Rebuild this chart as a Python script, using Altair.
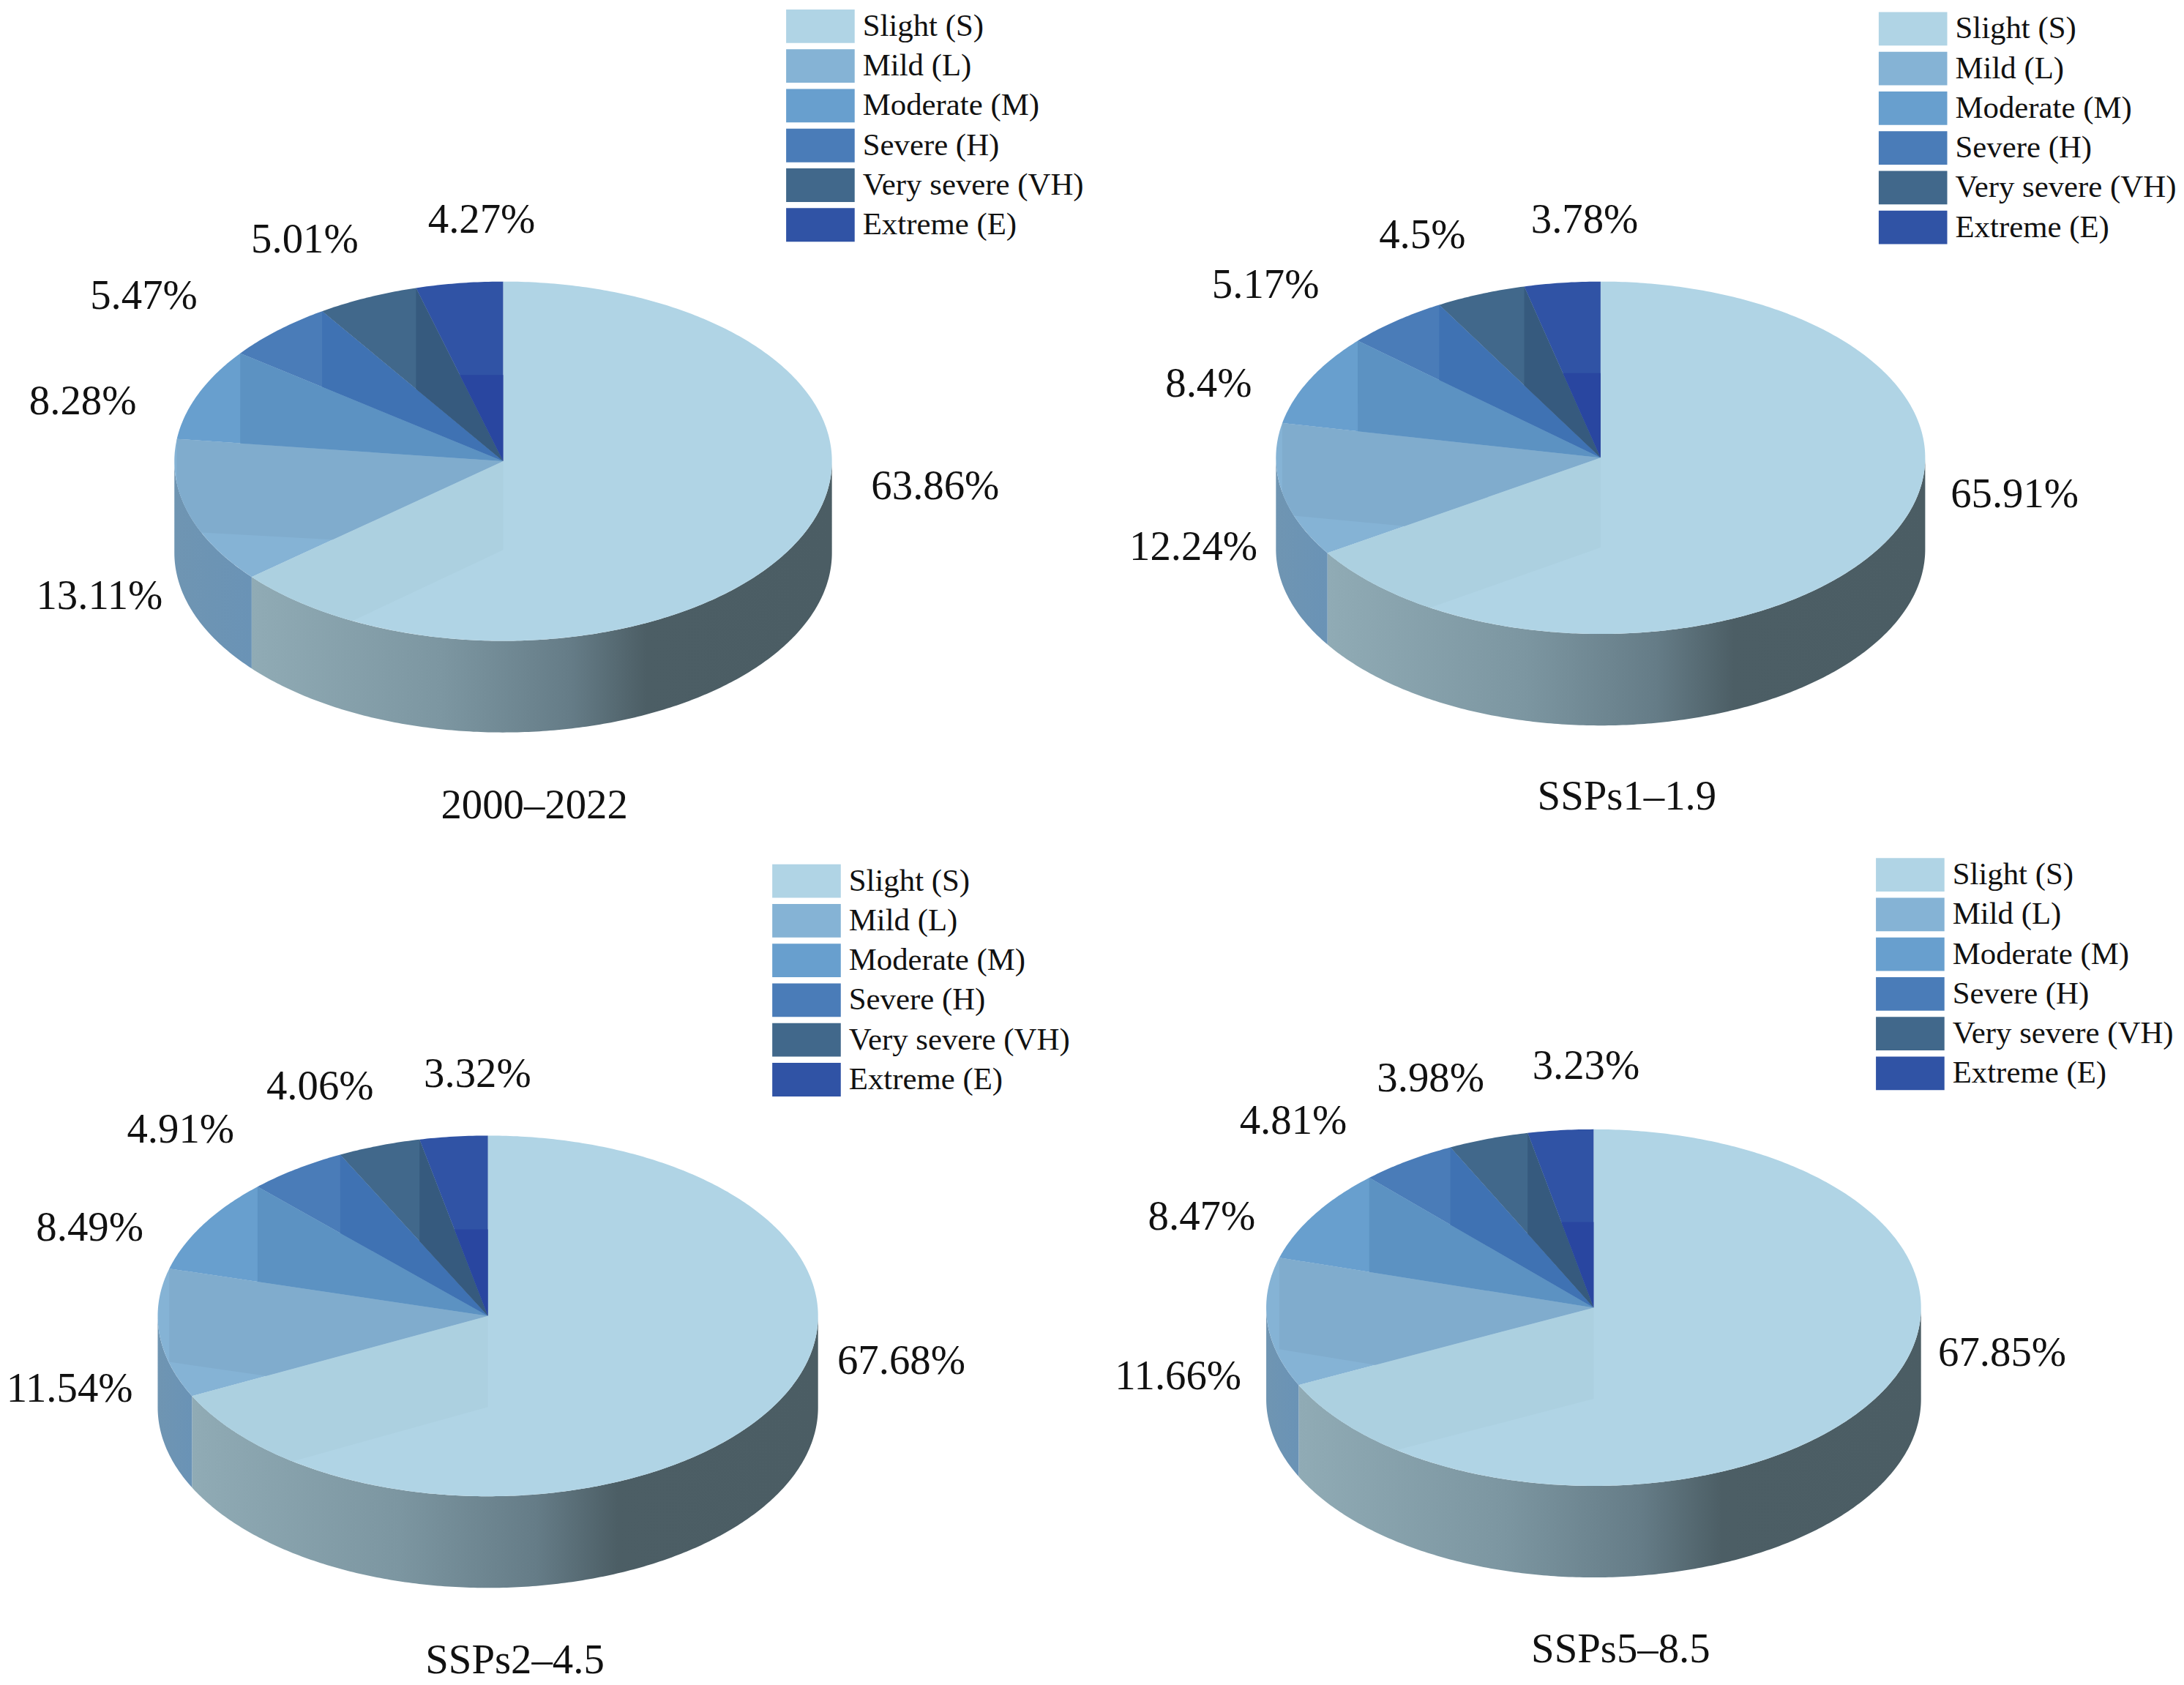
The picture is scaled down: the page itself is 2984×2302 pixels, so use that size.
import math
import altair as alt
import pandas as pd

# ---- data ----
LEVELS = ["Slight (S)", "Mild (L)", "Moderate (M)", "Severe (H)", "Very severe (VH)", "Extreme (E)"]
TITLES = ["2000–2022", "SSPs1–1.9", "SSPs2–4.5", "SSPs5–8.5"]
VALUES_P1 = [63.86, 13.11, 8.28, 5.47, 5.01, 4.27]
VALUES_P2 = [65.91, 12.24, 8.4, 5.17, 4.5, 3.78]
VALUES_P3 = [67.68, 11.54, 8.49, 4.91, 4.06, 3.32]
VALUES_P4 = [67.85, 11.66, 8.47, 4.81, 3.98, 3.23]
VALUE_TEXT_P1 = ["63.86%", "13.11%", "8.28%", "5.47%", "5.01%", "4.27%"]
VALUE_TEXT_P2 = ["65.91%", "12.24%", "8.4%", "5.17%", "4.5%", "3.78%"]
VALUE_TEXT_P3 = ["67.68%", "11.54%", "8.49%", "4.91%", "4.06%", "3.32%"]
VALUE_TEXT_P4 = ["67.85%", "11.66%", "8.47%", "4.81%", "3.98%", "3.23%"]

# ---- colours ----
LEVEL_COLORS = ["#b0d4e5", "#85b3d5", "#689fce", "#4a7cb8", "#41688b", "#3053a5"]
SHADES = ["S shade", "L shade", "M shade", "H shade", "VH shade", "E shade"]
SHADE_COLORS = ["#acd0e0", "#80accd", "#5c92c2", "#3f72b3", "#365a7e", "#2946a0"]
RIM_S = [(0, "#90abb5"), (0.33, "#7c96a1"), (0.55, "#657c87"), (0.68, "#4c5e65"), (1, "#4b5d64")]
RIM_L = [(0, "#6f95b2"), (1, "#6a93b6")]

# ---- layout (reference pixels) ----
K = 2984 / 1568
W, H = 1484, 1143
FONT = "Liberation Serif"
DEPTH = 66 * K
ROW = 54.5

# centre x, centre y, rx, ry (in the 1568-wide view, scaled by K)
PIES = [(359, 330.5, 237, 129.5), (1148.5, 328, 234, 127),
        (348, 945, 238, 130), (1143.5, 939, 236, 128.5)]
LEGEND_AT = [(563, 17), (1349, 18.8), (553, 631.5), (1347, 627)]
TITLE_AT = [(381.5, 579), (1167.5, 572.5), (367.5, 1193.5), (1163, 1185.5)]
LABEL_AT = [
    [(670.5, 349), (68, 428), (56, 288), (100, 212), (216, 171), (343.5, 157)],
    [(1447, 355), (855, 393), (866, 275), (907, 204), (1020, 168), (1137, 157)],
    [(646, 978), (46.5, 998), (61, 882), (126.5, 811), (227, 780), (340.5, 771)],
    [(1438, 972), (844, 989), (861, 874), (927, 805), (1026, 774), (1138, 765)],
]
# page offset of each panel's origin
ORIGIN = [(13, 9), (W + 10, 9), (13, H + 6), (W + 10, H + 6)]
# faint shading on the top face: line (u, v, slope) in the mild slice, (v, slope) in the slight slice
L_LINE = [(-0.898, 0.399, 0.10), (-0.934, 0.331, 0.172), (-0.961, 0.256, 0.264), (-0.964, 0.232, 0.30)]
S_DIAG = [(0.494, -0.862), (0.51, -0.649), (0.505, -0.509), (0.512, -0.477)]

X = alt.X("x:Q", scale=alt.Scale(domain=[0, W]), axis=None)
Y = alt.Y("y:Q", scale=alt.Scale(domain=[H, 0]), axis=None)
FILL = alt.Fill("name:N", legend=None,
                scale=alt.Scale(domain=LEVELS + SHADES, range=LEVEL_COLORS + SHADE_COLORS))


def wedge(a0, a1):
    n = max(3, int(abs(a1 - a0) * 90))
    pts = [(0.0, 0.0)]
    for k in range(n + 1):
        a = a0 + (a1 - a0) * k / n
        pts.append((math.sin(a), -math.cos(a)))
    return pts


def clip(poly, keep):
    """Sutherland-Hodgman against one half plane; keep(p) >= 0 is inside."""
    out = []
    for i, p in enumerate(poly):
        q = poly[(i + 1) % len(poly)]
        fp, fq = keep(p), keep(q)
        if fp >= 0:
            out.append(p)
        if (fp >= 0) != (fq >= 0):
            t = fp / (fp - fq)
            out.append((p[0] + (q[0] - p[0]) * t, p[1] + (q[1] - p[1]) * t))
    return out


def gradient(stops):
    return alt.LinearGradient(gradient="linear", x1=0, x2=1, y1=0, y2=0,
                              stops=[alt.GradientStop(offset=o, color=c) for o, c in stops])


def panel(idx, values, texts):
    cx, cy, rx, ry = [v * K for v in PIES[idx]]
    ox, oy = ORIGIN[idx]
    cx -= ox
    cy -= oy

    def to_px(p):
        return cx + rx * p[0], cy + ry * p[1]

    total = sum(values)
    edges = [0.0]
    for v in values:
        edges.append(edges[-1] + v / total * 2 * math.pi)

    lu, lv, ls = L_LINE[idx]
    sv, ss = S_DIAG[idx]

    # top face
    top = []
    shade = []
    for j, name in enumerate(LEVELS):
        poly = wedge(edges[j], edges[j + 1])
        for i, p in enumerate(poly):
            x, y = to_px(p)
            top.append({"name": name, "i": i, "x": x, "y": y})
        if j == 0:
            part = clip(poly, lambda p: -p[0])
            part = clip(part, lambda p: (sv + p[0] * ss) - p[1])
        elif j == 1:
            edge_u = math.sin(edges[j + 1])
            part = clip(poly, lambda p: (lv + (p[0] - lu) * ls) - p[1])
            part = clip(part, lambda p: p[0] - edge_u)
        elif j == 5:
            part = clip(poly, lambda p: p[1] + 0.48)
        else:
            edge_u = math.sin(edges[j + 1])
            part = clip(poly, lambda p: p[0] - edge_u)
        for i, p in enumerate(part):
            x, y = to_px(p)
            shade.append({"name": SHADES[j], "i": i, "x": x, "y": y})

    # side wall
    def rim(a0, a1):
        n = int(abs(a1 - a0) * 90)
        rows = []
        for k in range(n + 1):
            a = a0 + (a1 - a0) * k / n
            x, y = to_px((math.sin(a), -math.cos(a)))
            rows.append({"x": x, "y": y, "y2": y + DEPTH})
        return pd.DataFrame(rows)

    rim_s = alt.Chart(rim(math.pi / 2, edges[1])).mark_area(color=gradient(RIM_S)).encode(
        x=X, y=Y, y2="y2:Q")
    rim_l = alt.Chart(rim(edges[1], 1.5 * math.pi)).mark_area(color=gradient(RIM_L)).encode(
        x=X, y=Y, y2="y2:Q")

    # faint darker sliver on the wall above the continuation of the diagonal
    a = edges[1]
    band = []
    while a > math.pi / 2:
        u, v = math.sin(a), -math.cos(a)
        if v > sv + u * ss:
            band.append((u, v))
            a -= 0.01
        else:
            break
    bx, by = to_px((math.sin(edges[1]), -math.cos(edges[1])))
    wall_rows = [{"i": i, "x": to_px(p)[0], "y": to_px(p)[1]} for i, p in enumerate(band)]
    wall_rows.append({"i": len(band), "x": bx, "y": by + DEPTH})
    wall = alt.Chart(pd.DataFrame(wall_rows)).mark_line(
        strokeWidth=0, fill="#000000", fillOpacity=0.035
    ).encode(x=X, y=Y, order="i:Q")

    top_l = alt.Chart(pd.DataFrame(top)).mark_line(strokeWidth=0).encode(
        x=X, y=Y, fill=FILL, order="i:Q")
    shade_l = alt.Chart(pd.DataFrame(shade)).mark_line(strokeWidth=0).encode(
        x=X, y=Y, fill=FILL, order="i:Q")

    # value labels and title
    lab_rows = [{"x": lx * K - ox, "y": ly * K - oy, "t": t}
                for (lx, ly), t in zip(LABEL_AT[idx], texts)]
    tx, ty = TITLE_AT[idx]
    lab_rows.append({"x": tx * K - ox, "y": ty * K - oy, "t": TITLES[idx]})
    labels = alt.Chart(pd.DataFrame(lab_rows)).mark_text(
        font=FONT, fontSize=57, color="#111111", align="center", baseline="middle"
    ).encode(x=X, y=Y, text="t:N")

    # legend
    lx, ly = LEGEND_AT[idx]
    lx = lx * K - ox
    ly = ly * K - oy
    rows = []
    for j, name in enumerate(LEVELS):
        c = ly + j * ROW
        rows.append({"name": name, "x": lx, "x2": lx + 94, "y": c - 23, "y2": c + 23,
                     "tx": lx + 105, "ty": c})
    ldf = pd.DataFrame(rows)
    swatch = alt.Chart(ldf).mark_rect().encode(x=X, x2="x2:Q", y=Y, y2="y2:Q", fill=FILL)
    ltext = alt.Chart(ldf).mark_text(
        font=FONT, fontSize=43, color="#111111", align="left", baseline="middle"
    ).encode(x=alt.X("tx:Q", scale=alt.Scale(domain=[0, W]), axis=None),
             y=alt.Y("ty:Q", scale=alt.Scale(domain=[H, 0]), axis=None),
             text="name:N")

    return alt.layer(rim_s, rim_l, wall, top_l, shade_l, labels, swatch, ltext).properties(width=W, height=H)


p1 = panel(0, VALUES_P1, VALUE_TEXT_P1)
p2 = panel(1, VALUES_P2, VALUE_TEXT_P2)
p3 = panel(2, VALUES_P3, VALUE_TEXT_P3)
p4 = panel(3, VALUES_P4, VALUE_TEXT_P4)

chart = alt.vconcat(
    alt.hconcat(p1, p2, spacing=0),
    alt.hconcat(p3, p4, spacing=0),
    spacing=0,
).properties(padding=0, background="white").configure_view(stroke=None)

chart.save("out.html", embed_options={"renderer": "svg", "actions": False})
